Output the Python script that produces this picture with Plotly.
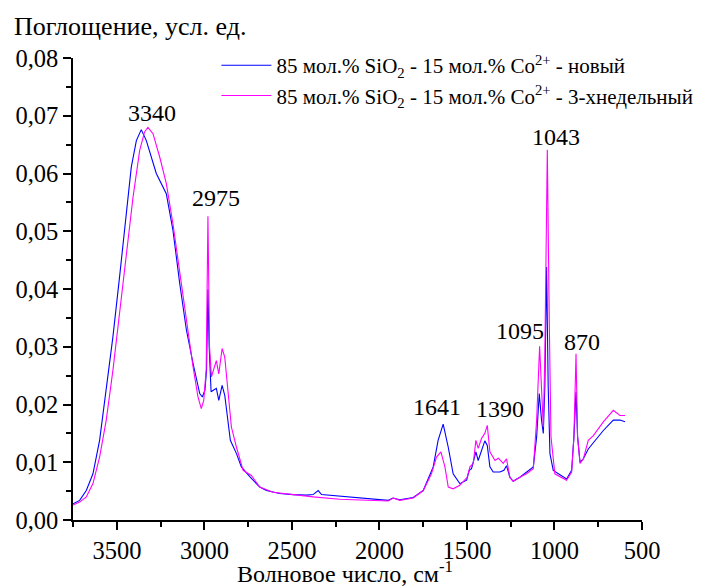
import plotly.graph_objects as go

# ---- data ----
wn_new = [3751, 3713, 3675, 3637, 3599, 3561, 3523, 3485, 3446, 3418, 3389, 3361, 3332, 3275, 3218,
          3180, 3141, 3103, 3065, 3027, 3012, 2997, 2988, 2980, 2973, 2962, 2947, 2932, 2918, 2899,
          2884, 2865, 2852, 2817, 2789, 2741, 2684, 2646, 2570, 2494, 2417, 2379, 2350, 2331, 2227,
          2150, 2080, 1998, 1950, 1922, 1884, 1807, 1750, 1693, 1665, 1636, 1607, 1579, 1541, 1502,
          1487, 1474, 1464, 1449, 1436, 1417, 1398, 1384, 1369, 1350, 1312, 1289, 1274, 1255, 1236,
          1198, 1160, 1121, 1102, 1087, 1074, 1064, 1055, 1045, 1036, 1026, 1007, 969, 931, 902,
          889, 877, 868, 854, 835, 807, 778, 721, 664, 626, 597]
abs_new = [0.0028, 0.0034, 0.0051, 0.0080, 0.0138, 0.0225, 0.0317, 0.0421, 0.0525, 0.0611, 0.0657,
           0.0676, 0.0657, 0.0600, 0.0565, 0.0502, 0.0409, 0.0329, 0.0271, 0.0219, 0.0213, 0.0225,
           0.0260, 0.0399, 0.0300, 0.0222, 0.0225, 0.0228, 0.0207, 0.0233, 0.0216, 0.0167, 0.0138,
           0.0115, 0.0092, 0.0075, 0.0057, 0.0051, 0.0046, 0.0044, 0.0043, 0.0044, 0.0051, 0.0044,
           0.0041, 0.0039, 0.0038, 0.0035, 0.0034, 0.0038, 0.0035, 0.0039, 0.0051, 0.0092, 0.0138,
           0.0166, 0.0126, 0.0080, 0.0063, 0.0069, 0.0086, 0.0089, 0.0103, 0.0118, 0.0103, 0.0121,
           0.0137, 0.0129, 0.0092, 0.0083, 0.0083, 0.0086, 0.0094, 0.0074, 0.0067, 0.0074, 0.0083,
           0.0092, 0.0144, 0.0219, 0.0173, 0.0150, 0.0231, 0.0438, 0.0231, 0.0115, 0.0086, 0.0079,
           0.0071, 0.0086, 0.0144, 0.0222, 0.0144, 0.0100, 0.0106, 0.0123, 0.0134, 0.0155, 0.0173,
           0.0173, 0.0170]

wn_aged = [3751, 3713, 3675, 3637, 3599, 3561, 3523, 3485, 3446, 3408, 3370, 3342, 3323, 3294, 3256,
           3218, 3180, 3141, 3103, 3065, 3037, 3018, 3004, 2990, 2980, 2971, 2960, 2943, 2932, 2918,
           2899, 2884, 2865, 2846, 2817, 2779, 2732, 2684, 2608, 2494, 2379, 2227, 2100, 1998, 1950,
           1922, 1884, 1807, 1750, 1703, 1674, 1649, 1626, 1607, 1579, 1541, 1499, 1483, 1464, 1449,
           1436, 1417, 1398, 1384, 1369, 1340, 1321, 1293, 1274, 1255, 1236, 1198, 1160, 1121, 1102,
           1085, 1074, 1064, 1055, 1041, 1030, 1020, 998, 959, 931, 902, 889, 877, 868, 854,
           835, 807, 778, 721, 664, 626, 597]
abs_aged = [0.0026, 0.0031, 0.0040, 0.0063, 0.0109, 0.0173, 0.0259, 0.0357, 0.0455, 0.0559, 0.0640,
            0.0672, 0.0680, 0.0669, 0.0629, 0.0583, 0.0513, 0.0427, 0.0340, 0.0265, 0.0213, 0.0193,
            0.0207, 0.0260, 0.0526, 0.0300, 0.0248, 0.0265, 0.0276, 0.0253, 0.0297, 0.0282, 0.0225,
            0.0161, 0.0126, 0.0086, 0.0077, 0.0057, 0.0048, 0.0044, 0.0040, 0.0036, 0.0035, 0.0033,
            0.0033, 0.0038, 0.0034, 0.0038, 0.0051, 0.0080, 0.0109, 0.0118, 0.0092, 0.0057, 0.0054,
            0.0060, 0.0074, 0.0092, 0.0098, 0.0138, 0.0124, 0.0141, 0.0150, 0.0164, 0.0118, 0.0103,
            0.0107, 0.0098, 0.0106, 0.0074, 0.0067, 0.0074, 0.0080, 0.0089, 0.0173, 0.0301, 0.0231,
            0.0161, 0.0288, 0.0641, 0.0346, 0.0144, 0.0080, 0.0074, 0.0069, 0.0083, 0.0144, 0.0288,
            0.0144, 0.0098, 0.0106, 0.0138, 0.0146, 0.0170, 0.0190, 0.0181, 0.0181]

series_names = ["85 мол.% SiO<sub>2</sub> - 15 мол.% Co<sup>2+</sup> - новый",
                "85 мол.% SiO<sub>2</sub> - 15 мол.% Co<sup>2+</sup> - 3-хнедельный"]

peak_labels = ["3340", "2975", "1641", "1390", "1095", "1043", "870"]
peak_label_x = [3298, 2932, 1674, 1312, 1198, 992, 843]
peak_label_y = [0.0705, 0.0557, 0.0196, 0.0192, 0.0327, 0.0663, 0.0308]

x_tickvals = [3500, 3000, 2500, 2000, 1500, 1000, 500]
x_ticktext = ["3500", "3000", "2500", "2000", "1500", "1000", "500"]
y_tickvals = [0.00, 0.01, 0.02, 0.03, 0.04, 0.05, 0.06, 0.07, 0.08]
y_ticktext = ["0,00", "0,01", "0,02", "0,03", "0,04", "0,05", "0,06", "0,07", "0,08"]

FONT = "Times New Roman, Liberation Serif, serif"

fig = go.Figure()
fig.add_trace(go.Scatter(x=wn_new, y=abs_new, mode="lines", name=series_names[0],
                         line=dict(color="#0000FF", width=1.1)))
fig.add_trace(go.Scatter(x=wn_aged, y=abs_aged, mode="lines", name=series_names[1],
                         line=dict(color="#FF00FF", width=1.1)))

for t, x, y in zip(peak_labels, peak_label_x, peak_label_y):
    fig.add_annotation(x=x, y=y, text=t, showarrow=False,
                       font=dict(family=FONT, size=24, color="black"))

fig.add_annotation(xref="paper", yref="paper", x=-0.108, y=1.068, xanchor="left", yanchor="middle",
                   text="Поглощение, усл. ед.", showarrow=False,
                   font=dict(family=FONT, size=26, color="black"))
fig.add_annotation(xref="paper", yref="paper", x=0.478, y=-0.112, xanchor="center", yanchor="middle",
                   text="Волновое число, см<sup>-1</sup>", showarrow=False,
                   font=dict(family=FONT, size=24, color="black"))

# page body has an 8px default margin, so the figure is drawn 8px smaller and offset
fig.update_layout(
    width=697, height=580,
    margin=dict(l=65, r=63, t=50, b=68, autoexpand=False),
    paper_bgcolor="white", plot_bgcolor="white",
    font=dict(family=FONT, size=22, color="black"),
    showlegend=True,
    legend=dict(x=0.252, y=1.028, xanchor="left", yanchor="top",
                font=dict(family=FONT, size=21, color="black"),
                bgcolor="rgba(0,0,0,0)", itemwidth=50, tracegroupgap=0),
)

fig.update_xaxes(range=[3751, 500], showline=True, linecolor="black", linewidth=1.5,
                 ticks="outside", ticklen=8, tickwidth=1.5, tickcolor="black",
                 tickvals=x_tickvals, ticktext=x_ticktext, showgrid=False, zeroline=False,
                 minor=dict(ticks="outside", ticklen=5, tickwidth=1.5, tickcolor="black", dtick=250, showgrid=False),
                 tickfont=dict(family=FONT, size=24.5))
fig.update_yaxes(range=[0, 0.08], showline=True, linecolor="black", linewidth=1.5,
                 ticks="outside", ticklen=8, tickwidth=1.5, tickcolor="black",
                 tickvals=y_tickvals, ticktext=y_ticktext, showgrid=False, zeroline=False,
                 minor=dict(ticks="outside", ticklen=5, tickwidth=1.5, tickcolor="black", dtick=0.005, showgrid=False),
                 tickfont=dict(family=FONT, size=24.5))

fig.write_html("out.html")
